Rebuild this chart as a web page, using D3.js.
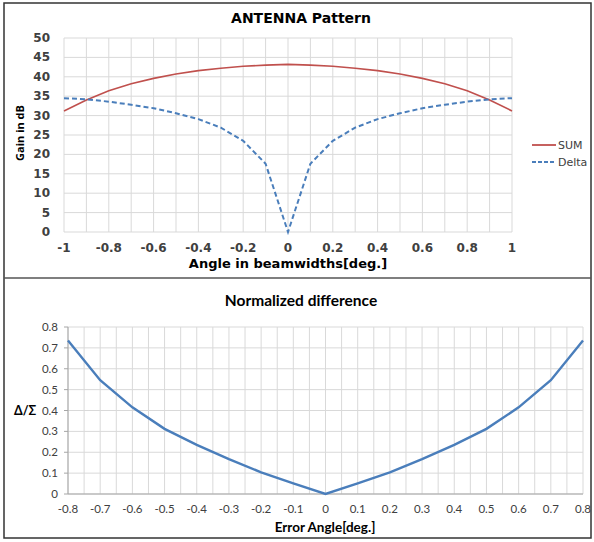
<!DOCTYPE html>
<html>
<head>
<meta charset="UTF-8">
<title>Antenna pattern</title>
<script src="https://cdn.jsdelivr.net/npm/d3@7"></script>
<style>
  body { margin: 0; background: #fff; }
  svg { display: block; }
</style>
</head>
<body>
<script>
// top chart data
var angles = [-1, -0.9, -0.8, -0.7, -0.6, -0.5, -0.4, -0.3, -0.2, -0.1, 0, 0.1, 0.2, 0.3, 0.4, 0.5, 0.6, 0.7, 0.8, 0.9, 1];
var sumGain = [31.2, 34.0, 36.4, 38.2, 39.6, 40.7, 41.6, 42.2, 42.7, 43.0, 43.2, 43.0, 42.7, 42.2, 41.6, 40.7, 39.6, 38.2, 36.4, 34.0, 31.2];
var deltaGain = [34.5, 34.2, 33.6, 32.8, 31.9, 30.6, 29.1, 26.9, 23.5, 17.6, 0, 17.6, 23.5, 26.9, 29.1, 30.6, 31.9, 32.8, 33.6, 34.2, 34.5];
var topXTicks = [-1, -0.8, -0.6, -0.4, -0.2, 0, 0.2, 0.4, 0.6, 0.8, 1];
var topYTicks = [0, 5, 10, 15, 20, 25, 30, 35, 40, 45, 50];

// bottom chart data
var errAngles = [-0.8, -0.7, -0.6, -0.5, -0.4, -0.3, -0.2, -0.1, 0, 0.1, 0.2, 0.3, 0.4, 0.5, 0.6, 0.7, 0.8];
var normDiff = [0.735, 0.545, 0.415, 0.312, 0.235, 0.167, 0.104, 0.051, 0, 0.051, 0.104, 0.167, 0.235, 0.312, 0.415, 0.545, 0.735];
var botXTicks = [-0.8, -0.7, -0.6, -0.5, -0.4, -0.3, -0.2, -0.1, 0, 0.1, 0.2, 0.3, 0.4, 0.5, 0.6, 0.7, 0.8];
var botYTicks = [0, 0.1, 0.2, 0.3, 0.4, 0.5, 0.6, 0.7, 0.8];

var svg = d3.select("body").append("svg")
    .attr("width", 594)
    .attr("height", 542);

var gridColor = "#d9d9d9";
var sumColor = "#c0504d";
var deltaColor = "#4a7ebb";

// frames
svg.append("rect").attr("x", 4).attr("y", 3).attr("width", 587).attr("height", 535)
    .attr("fill", "none").attr("stroke", "#333").attr("stroke-width", 1.5);
svg.append("line").attr("x1", 4).attr("x2", 591).attr("y1", 278).attr("y2", 278)
    .attr("stroke", "#555").attr("stroke-width", 1.5);

// ---------- top chart ----------
var topFont = "DejaVu Sans, Verdana, sans-serif";
var x1 = d3.scaleLinear().domain([-1, 1]).range([64, 512]);
var y1 = d3.scaleLinear().domain([0, 50]).range([232, 38]);

var topG = svg.append("g");

topG.selectAll("line.vg").data(d3.range(-10, 11).map(function(d) { return d / 10; }))
    .enter().append("line")
    .attr("x1", function(d) { return x1(d); })
    .attr("x2", function(d) { return x1(d); })
    .attr("y1", y1(0)).attr("y2", y1(50))
    .attr("stroke", gridColor);

topG.selectAll("line.hg").data(topYTicks)
    .enter().append("line")
    .attr("x1", x1(-1)).attr("x2", x1(1))
    .attr("y1", function(d) { return y1(d); })
    .attr("y2", function(d) { return y1(d); })
    .attr("stroke", gridColor);

topG.selectAll("text.xt").data(topXTicks)
    .enter().append("text")
    .attr("x", function(d) { return x1(d); })
    .attr("y", 252)
    .attr("text-anchor", "middle")
    .attr("font-family", topFont).attr("font-weight", "bold").attr("font-size", 12)
    .attr("fill", "#404040")
    .text(function(d) { return d; });

topG.selectAll("text.yt").data(topYTicks)
    .enter().append("text")
    .attr("x", 50)
    .attr("y", function(d) { return y1(d) + 4; })
    .attr("text-anchor", "end")
    .attr("font-family", topFont).attr("font-weight", "bold").attr("font-size", 12)
    .attr("fill", "#404040")
    .text(function(d) { return d; });

var line1 = d3.line()
    .x(function(d, i) { return x1(angles[i]); })
    .y(function(d) { return y1(d); });

topG.append("path").datum(sumGain)
    .attr("d", line1)
    .attr("fill", "none").attr("stroke", sumColor).attr("stroke-width", 1.6);

topG.append("path").datum(deltaGain)
    .attr("d", line1)
    .attr("fill", "none").attr("stroke", deltaColor).attr("stroke-width", 2)
    .attr("stroke-dasharray", "5,3");

topG.append("text").attr("x", 301).attr("y", 23)
    .attr("text-anchor", "middle")
    .attr("font-family", topFont).attr("font-weight", "bold").attr("font-size", 14)
    .attr("fill", "#000")
    .text("ANTENNA Pattern");

topG.append("text").attr("x", 288).attr("y", 268)
    .attr("text-anchor", "middle")
    .attr("font-family", topFont).attr("font-weight", "bold").attr("font-size", 13)
    .attr("fill", "#000")
    .text("Angle in beamwidths[deg.]");

topG.append("text")
    .attr("transform", "translate(24,133) rotate(-90)")
    .attr("text-anchor", "middle")
    .attr("font-family", "Open Sans, sans-serif").attr("font-weight", "bold").attr("font-size", 11)
    .attr("fill", "#000")
    .text("Gain in dB");

// legend
var legend = [{name: "SUM", color: sumColor, dash: null}, {name: "Delta", color: deltaColor, dash: "4,2"}];
var lg = topG.selectAll("g.lg").data(legend).enter().append("g")
    .attr("transform", function(d, i) { return "translate(532," + (145 + i * 17) + ")"; });
lg.append("line").attr("x1", 0).attr("x2", 24).attr("y1", 0).attr("y2", 0)
    .attr("stroke", function(d) { return d.color; })
    .attr("stroke-width", 1.8)
    .attr("stroke-dasharray", function(d) { return d.dash; });
lg.append("text").attr("x", 26).attr("y", 4)
    .attr("font-family", topFont).attr("font-size", 11)
    .attr("fill", "#404040")
    .text(function(d) { return d.name; });

// ---------- bottom chart ----------
var botFont = "Lato, Open Sans, sans-serif";
var x2 = d3.scaleLinear().domain([-0.8, 0.8]).range([68, 583]);
var y2 = d3.scaleLinear().domain([0, 0.8]).range([494, 327]);

var bot = svg.append("g");

bot.selectAll("line.vg").data(d3.range(-16, 17).map(function(d) { return d / 20; }))
    .enter().append("line")
    .attr("x1", function(d) { return x2(d); })
    .attr("x2", function(d) { return x2(d); })
    .attr("y1", y2(0)).attr("y2", y2(0.8))
    .attr("stroke", gridColor);

bot.selectAll("line.hg").data(botYTicks)
    .enter().append("line")
    .attr("x1", x2(-0.8)).attr("x2", x2(0.8))
    .attr("y1", function(d) { return y2(d); })
    .attr("y2", function(d) { return y2(d); })
    .attr("stroke", gridColor);

// axis lines with outward ticks
bot.append("line").attr("x1", x2(-0.8)).attr("x2", x2(0.8)).attr("y1", y2(0)).attr("y2", y2(0))
    .attr("stroke", "#a6a6a6");
bot.append("line").attr("x1", x2(-0.8)).attr("x2", x2(-0.8)).attr("y1", y2(0)).attr("y2", y2(0.8))
    .attr("stroke", "#a6a6a6");
bot.selectAll("line.yk").data(botYTicks).enter().append("line")
    .attr("x1", x2(-0.8) - 4).attr("x2", x2(-0.8))
    .attr("y1", function(d) { return y2(d); })
    .attr("y2", function(d) { return y2(d); })
    .attr("stroke", "#a6a6a6");

bot.selectAll("text.xt").data(botXTicks)
    .enter().append("text")
    .attr("x", function(d) { return x2(d); })
    .attr("y", 513)
    .attr("text-anchor", "middle")
    .attr("font-family", botFont).attr("font-size", 11.5)
    .attr("fill", "#404040")
    .text(function(d) { return d; });

bot.selectAll("text.yt").data(botYTicks)
    .enter().append("text")
    .attr("x", 58)
    .attr("y", function(d) { return y2(d) + 4; })
    .attr("text-anchor", "end")
    .attr("font-family", botFont).attr("font-size", 11.5)
    .attr("fill", "#404040")
    .text(function(d) { return d; });

var line2 = d3.line()
    .x(function(d, i) { return x2(errAngles[i]); })
    .y(function(d) { return y2(d); });

bot.append("path").datum(normDiff)
    .attr("d", line2)
    .attr("fill", "none").attr("stroke", deltaColor).attr("stroke-width", 2.4);

bot.append("text").attr("x", 301).attr("y", 306)
    .attr("text-anchor", "middle")
    .attr("font-family", botFont).attr("font-weight", "bold").attr("font-size", 15.5)
    .attr("fill", "#000")
    .text("Normalized difference");

bot.append("text").attr("x", 325).attr("y", 532)
    .attr("text-anchor", "middle")
    .attr("font-family", botFont).attr("font-weight", "bold").attr("font-size", 13.5)
    .attr("fill", "#000")
    .text("Error Angle[deg.]");

bot.append("text").attr("x", 14).attr("y", 415)
    .attr("font-family", botFont).attr("font-weight", "bold").attr("font-size", 12.5)
    .attr("fill", "#000")
    .text("Δ/Σ");
</script>
</body>
</html>
